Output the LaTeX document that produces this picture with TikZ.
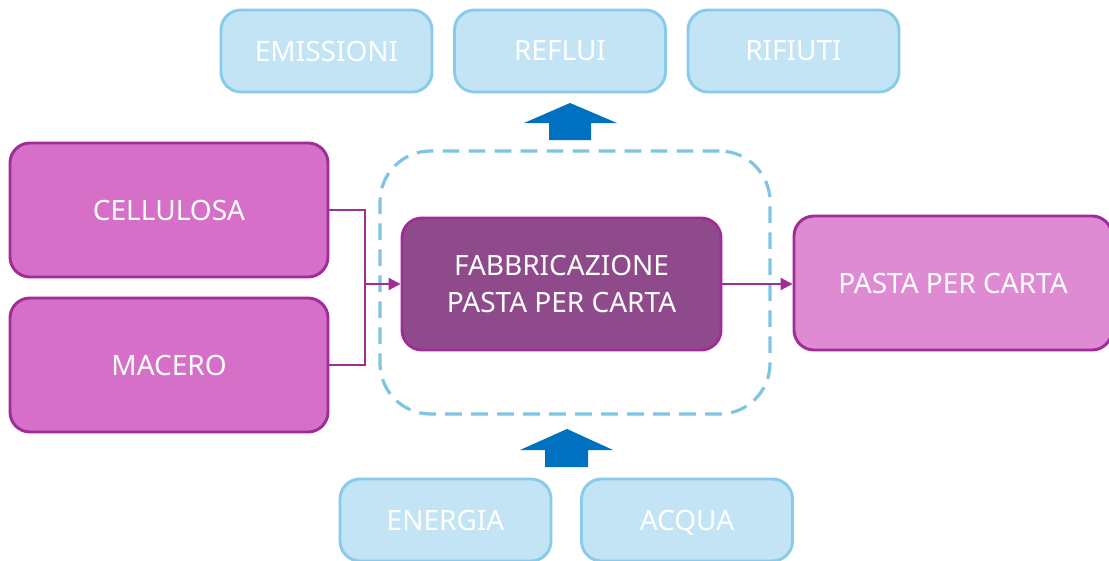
\documentclass[tikz,border=0pt]{standalone}
\usepackage{fontspec}
\setmainfont{Noto Sans}
\usetikzlibrary{arrows.meta}
\definecolor{lbfill}{HTML}{C3E4F5}
\definecolor{lbline}{HTML}{88CBEA}
\definecolor{pfill}{HTML}{D66FC8}
\definecolor{pline}{HTML}{A02C96}
\definecolor{pfilllt}{HTML}{DE8BD4}
\definecolor{dfill}{HTML}{8F4A8B}
\definecolor{dashc}{HTML}{80C4E4}
\definecolor{arrblue}{HTML}{0070C0}
\begin{document}
\begin{tikzpicture}[x=0.75pt,y=-0.75pt,
  base/.style={rounded corners=15pt,inner sep=0pt,line width=2.2pt,text=white,
    font=\fontsize{21}{28}\selectfont,align=center},
  oneline/.style={text depth=0pt},
  small/.style={minimum width={211*0.75pt},minimum height={82*0.75pt}},
  big/.style={minimum width={318*0.75pt},minimum height={134*0.75pt}},
  bluebox/.style={base,oneline,small,draw=lbline,fill=lbfill},
  purpbox/.style={base,oneline,big,draw=pline,fill=pfill},
  ltbox/.style={base,oneline,big,draw=pline,fill=pfilllt},
  darkbox/.style={base,big,draw=pline,fill=dfill},
  conn/.style={draw=pline,line width=1.6pt},
  blockarrow/.style={fill=arrblue,draw=none}]
\clip (0,0) rectangle (1109,560);
\fill[white] (0,0) rectangle (1109,560);
% dashed frame
\node[draw=dashc,line width=2.4pt,dash pattern=on 12.5pt off 7pt,rounded corners=38pt,inner sep=0pt,
  minimum width={390*0.75pt},minimum height={263*0.75pt}] (frame) at (575,282.5) {};
% top outputs
\node[bluebox] (emi) at (326.5,51) {EMISSIONI};
\node[bluebox] (ref) at (560,51) {REFLUI};
\node[bluebox] (rif) at (793.5,51) {RIFIUTI};
% inputs
\node[purpbox] (cel) at (169,210) {CELLULOSA};
\node[purpbox] (mac) at (169,365) {MACERO};
\node[darkbox,minimum width={319*0.75pt},minimum height={132*0.75pt}] (fab) at (561.5,284) {FABBRICAZIONE\\PASTA PER CARTA};
\node[ltbox] (pas) at (953,283) {PASTA PER CARTA};
% bottom inputs
\node[bluebox] (ene) at (445.5,520) {ENERGIA};
\node[bluebox] (acq) at (687,520) {ACQUA};
% connectors
\coordinate (jn) at (365,284);
\draw[conn] (cel.east) -| (jn);
\draw[conn] (mac.east) -| (jn);
\draw[conn,-{Triangle[length=9pt,width=9pt]}] (jn) -- (fab.west |- jn);
\draw[conn,-{Triangle[length=9pt,width=9pt]}] (fab.east) -- (fab.east -| pas.west);
% block arrows
\fill[blockarrow] (549,140) -- (549,123) -- (524,123) -- (570,103) -- (617,123) -- (591,123) -- (591,140) -- cycle;
\fill[blockarrow] (545,467) -- (545,450) -- (520,450) -- (567,429) -- (613,450) -- (588,450) -- (588,467) -- cycle;
\end{tikzpicture}
\end{document}
